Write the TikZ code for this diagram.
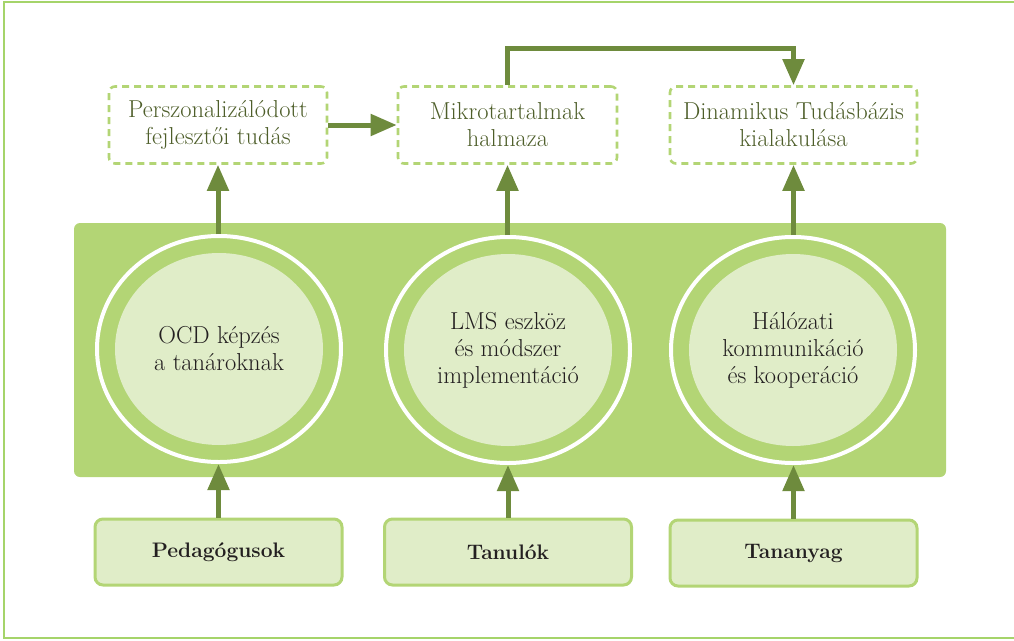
\documentclass[tikz,border=0pt]{standalone}
\usetikzlibrary{shapes.geometric,arrows.meta}
\definecolor{band}{HTML}{B3D575}
\definecolor{pale}{HTML}{E0EDC8}
\definecolor{arrowgreen}{HTML}{6E8B3D}
\definecolor{olivetext}{HTML}{4E5E2A}
\definecolor{inktext}{HTML}{231F20}
\definecolor{framegreen}{HTML}{A5D46A}
\tikzset{
  resultbox/.style={draw=band, line width=2.6pt, dash pattern=on 7pt off 5pt,
    rounded corners=6pt, minimum height=77pt, align=center,
    text=olivetext, font=\fontsize{24.5}{27}\selectfont},
  sourcebox/.style={draw=band, fill=pale, line width=3pt, rounded corners=8pt,
    minimum width=247pt, minimum height=66pt, align=center,
    text=inktext, font=\fontsize{21}{27}\selectfont\bfseries},
  ring/.style={ellipse, draw=white, fill=band, line width=4pt,
    minimum width=244pt, minimum height=226pt, inner sep=0pt},
  core/.style={ellipse, fill=pale, minimum width=208pt, minimum height=192pt,
    inner sep=0pt, align=center, text=inktext, font=\fontsize{24.5}{27}\selectfont},
  flow/.style={draw=arrowgreen, line width=5pt,
    -{Triangle[width=21pt,length=26pt]}, arrowgreen},
}
\begin{document}
\begin{tikzpicture}[x=1pt,y=-1pt]
  \useasboundingbox (0,0) rectangle (1014,640);
  % page frame, open on the right
  \draw[framegreen, line width=1.6pt] (1014,2) -- (4,2) -- (4,638) -- (1014,638);

  % central band with the three activities
  \node[fill=band, rounded corners=6pt, minimum width=872pt, minimum height=254pt,
        inner sep=0pt] (band) at (510,350) {};
  \node[ring] (c1) at (219,349) {};
  \node[ring] (c2) at (508,350) {};
  \node[ring] (c3) at (793,350) {};
  \node[core] (c1i) at (c1) {OCD képzés\\a tanároknak};
  \node[core] (c2i) at (c2) {LMS eszköz\\és módszer\\implementáció};
  \node[core] (c3i) at (c3) {Hálózati\\kommunikáció\\és kooperáció};

  % results
  \node[resultbox, minimum width=218pt] (t1) at (218,125) {Perszonalizálódott\\fejlesztői tudás};
  \node[resultbox, minimum width=219pt] (t2) at (507.5,125) {Mikrotartalmak\\halmaza};
  \node[resultbox, minimum width=247pt] (t3) at (793.5,125) {Dinamikus Tudásbázis\\kialakulása};

  % sources
  \node[sourcebox] (b1) at (218.5,552) {Pedagógusok};
  \node[sourcebox] (b2) at (508,552) {Tanulók};
  \node[sourcebox] (b3) at (793.5,553) {Tananyag};

  % connectors
  \draw[flow] (b1.north) -- (b1.north |- c1.south);
  \draw[flow] (b2.north) -- (b2.north |- c2.south);
  \draw[flow] (b3.north) -- (b3.north |- c3.south);
  \draw[flow] (c1.north -| t1.south) -- (t1.south);
  \draw[flow] (c2.north -| t2.south) -- (t2.south);
  \draw[flow] (c3.north -| t3.south) -- (t3.south);
  \draw[flow] (t1.east) -- (t2.west);
  \coordinate (elbow) at (650,48);
  \draw[flow] (t2.north) |- (elbow) -| (t3.north);
\end{tikzpicture}
\end{document}
